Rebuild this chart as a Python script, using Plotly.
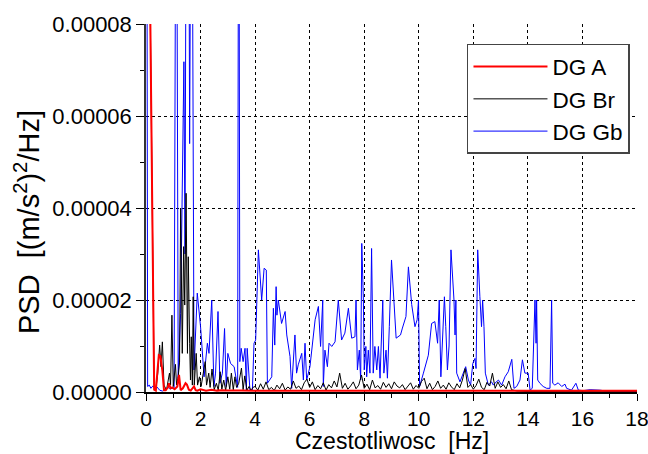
import plotly.graph_objects as go

UNIT = 1e-6  # values below are in units of 1e-6 (m/s^2)^2/Hz

# DG A (red)
a_f = [0.0, 0.16, 0.23, 0.3, 0.36, 0.42, 0.47, 0.53, 0.6, 0.66, 0.72, 0.8, 0.84, 0.9, 0.96,
       1.05, 1.15, 1.21, 1.27, 1.35, 1.45, 1.5, 1.57, 1.64, 1.7, 1.76, 1.82, 1.88, 2.0, 2.2,
       2.4, 2.6, 2.8, 3.0, 3.5, 4.0, 6.0, 8.0, 10.0, 12.0, 14.0, 16.0, 18.0]
a_v = [300, 80, 40, 0.5, 0.3, 5.0, 8.0, 7.8, 4.6, 0.4, 0.4, 1.0, 1.9, 0.8, 1.0,
       0.6, 1.2, 3.7, 0.4, 0.8, 1.9, 1.6, 0.5, 0.3, 0.8, 1.2, 0.4, 0.3, 0.6, 0.3,
       0.5, 0.3, 0.4, 0.3, 0.3, 0.25, 0.25, 0.25, 0.25, 0.25, 0.25, 0.25, 0.25]

# DG Br (black), low-frequency part
br_f_low = [0.0, 0.16, 0.23, 0.3, 0.36, 0.43, 0.5, 0.55, 0.6, 0.66, 0.75, 0.82, 0.86, 0.9, 0.95,
            1.0, 1.08, 1.12, 1.18, 1.23, 1.27, 1.33, 1.38, 1.42, 1.47, 1.52, 1.55, 1.6, 1.63, 1.66,
            1.7, 1.73, 1.77, 1.84, 1.89, 1.96, 2.02, 2.1, 2.17, 2.22, 2.3, 2.35, 2.42, 2.5, 2.58,
            2.65, 2.72, 2.78, 2.85, 2.92, 3.0, 3.07, 3.13, 3.2, 3.26, 3.32, 3.4, 3.5, 3.56, 3.62,
            3.7, 3.78, 3.85, 3.92]
br_v_low = [300, 80, 40, 1.0, 0.5, 4.0, 10.2, 5.5, 10.9, 1.5, 0.4, 2.5, 4.1, 1.5, 16.7,
            1.2, 6.0, 1.5, 3.3, 6.5, 40.0, 8.4, 31.6, 18.9, 43.2, 8.4, 29.4, 10.6, 2.6, 12.0,
            1.5, 20.7, 1.5, 8.4, 1.5, 3.3, 1.2, 4.1, 6.6, 1.5, 4.1, 1.0, 5.0, 0.5, 1.9,
            0.4, 4.4, 0.6, 2.6, 0.4, 3.3, 0.6, 4.1, 0.5, 3.3, 1.0, 1.9, 5.2, 0.5, 3.5,
            0.4, 1.2, 0.3, 1.0]
# DG Br (black), 4.0 .. 13.6 Hz every 0.1 Hz, then tail
br_f_high = [round(4.0 + 0.1 * i, 1) for i in range(97)] + [14.0, 15.0, 16.0, 17.0, 18.0]
br_v_high = [1.2, 0.4, 1.8, 0.6, 2.2, 0.5, 1.0, 0.3, 1.5, 0.7,
             1.9, 0.4, 1.1, 0.6, 2.4, 0.8, 1.3, 0.5, 2.0, 2.8,
             1.0, 2.2, 0.5, 1.4, 0.7, 2.0, 0.4, 1.6, 0.9, 2.4,
             1.1, 4.1, 0.8, 1.9, 0.6, 1.3, 2.2, 0.7, 1.5, 3.7,
             0.8, 1.7, 0.5, 2.6, 0.9, 1.4, 0.6, 2.1, 1.0, 1.8,
             0.7, 2.2, 1.3, 0.9, 1.6, 0.5, 1.2, 2.0, 0.6, 1.4,
             0.8, 2.3, 3.0, 0.7, 1.9, 0.5, 1.2, 2.4, 0.8, 1.5,
             0.6, 2.0, 1.1, 0.5, 1.8, 0.9, 2.6, 5.1, 1.0, 1.6,
             0.6, 1.4, 2.8, 1.0, 0.5, 2.1, 1.3, 4.1, 0.8, 2.2,
             1.0, 1.6, 0.7, 2.4, 0.5, 0.3, 0.2,
             0.1, 0.1, 0.1, 0.05, 0.05]

# DG Gb (blue)
gb_f = [0.0, 0.06, 0.12, 0.18, 0.25, 0.32, 0.4, 0.5, 0.6, 0.7, 0.8, 0.9, 1.03, 1.11, 1.18,
        1.27, 1.39, 1.43, 1.49, 1.55, 1.6, 1.67, 1.76, 1.88, 2.0, 2.13, 2.25, 2.31, 2.41, 2.49,
        2.55, 2.64, 2.71, 2.8, 2.88, 2.94, 3.0, 3.1, 3.23, 3.29, 3.36, 3.40, 3.44, 3.49, 3.56,
        3.63, 3.68, 3.71, 3.78, 3.81, 3.9, 3.96, 4.02, 4.12, 4.24, 4.33, 4.41, 4.45, 4.61, 4.67,
        4.72, 4.77, 4.8, 4.85, 4.97, 5.10, 5.16, 5.28, 5.34, 5.46, 5.52, 5.58, 5.71, 5.77, 5.83,
        5.89, 6.01, 6.07, 6.2, 6.32, 6.4, 6.48, 6.5, 6.56, 6.65, 6.71, 6.81, 6.93, 7.05, 7.17,
        7.29, 7.42, 7.54, 7.66, 7.70, 7.75, 7.82, 7.87, 7.91, 7.97, 8.0, 8.06, 8.09, 8.15, 8.21,
        8.27, 8.33, 8.39, 8.46, 8.52, 8.58, 8.68, 8.72, 8.8, 8.85, 8.92, 9.0, 9.17, 9.33, 9.4,
        9.53, 9.62, 9.74, 9.86, 9.94, 9.99, 10.03, 10.17, 10.35, 10.47, 10.59, 10.69, 10.75, 10.81, 10.88,
        10.94, 10.99, 11.05, 11.11, 11.18, 11.24, 11.29, 11.33, 11.36, 11.39, 11.51, 11.63, 11.72, 11.82, 11.9,
        11.98, 12.06, 12.1, 12.16, 12.24, 12.3, 12.34, 12.39, 12.44, 12.55, 12.67, 12.73, 12.79, 12.92, 13.04,
        13.16, 13.28, 13.41, 13.49, 13.59, 13.71, 13.8, 13.89, 14.01, 14.08, 14.16, 14.26, 14.3, 14.32, 14.36,
        14.44, 14.56, 14.69, 14.81, 14.87, 14.91, 14.99, 15.11, 15.24, 15.36, 15.42, 15.6, 15.76, 15.85, 16.03,
        16.28, 16.64, 16.89, 18.0]
gb_v = [250, 1.2, 1.5, 0.8, 1.3, 0.9, 1.1, 0.4, 0.2, 0.5, 1.0, 0.7, 0.9, 150, 3.0,
        17.1, 71.8, 30.0, 150, 150, 54.0, 150, 4.8, 21.5, 14.2, 3.3, 10.6, 8.4, 20.0, 1.2,
        4.1, 17.5, 1.9, 4.1, 13.8, 1.2, 8.4, 6.2, 5.5, 3.3, 1.0, 150, 6.6, 9.5, 6.6,
        9.5, 0.4, 9.5, 1.9, 0.4, 0.4, 10.6, 11.3, 30.9, 20.0, 26.9, 26.5, 1.9, 3.3, 18.2,
        10.2, 22.9, 16.7, 20.0, 14.9, 17.5, 12.4, 7.7, 0.8, 12.4, 4.1, 5.9, 8.4, 2.6, 10.6,
        2.6, 5.5, 9.1, 15.7, 18.6, 9.9, 20.0, 1.2, 9.1, 5.5, 10.6, 9.9, 10.9, 20.0, 11.3,
        12.8, 18.2, 11.7, 12.0, 20.0, 4.8, 9.1, 2.6, 32.3, 20.0, 4.8, 9.9, 3.3, 9.1, 4.1,
        31.2, 4.1, 9.9, 4.8, 9.9, 3.0, 20.0, 4.1, 9.1, 3.0, 14.2, 28.7, 11.7, 12.4, 13.9,
        16.4, 27.2, 19.0, 14.2, 15.7, 20.0, 1.2, 4.1, 8.0, 14.9, 15.3, 10.6, 20.0, 3.3, 12.0,
        20.7, 14.2, 4.8, 10.0, 30.9, 25.0, 20.0, 12.4, 20.0, 4.1, 2.2, 4.1, 5.5, 2.6, 1.5,
        6.2, 7.3, 5.1, 30.9, 20.7, 14.2, 20.0, 14.2, 4.1, 1.5, 2.2, 1.5, 1.9, 2.6, 1.5,
        3.3, 4.4, 7.1, 0.8, 1.2, 2.6, 7.0, 4.1, 4.1, 0.4, 0.8, 20.0, 10.6, 20.0, 2.6,
        1.9, 1.2, 0.8, 0.8, 20.0, 1.9, 1.5, 2.0, 1.2, 1.7, 0.8, 0.4, 1.9, 0.4, 0.3,
        0.5, 0.4, 0.2, 0.1]

x_ticks = [0, 2, 4, 6, 8, 10, 12, 14, 16, 18]
y_ticks = [0.0, 0.00002, 0.00004, 0.00006, 0.00008]
x_title = "Czestotliwosc  [Hz]"
y_title = "PSD  [(m/s<sup>2</sup>)<sup>2</sup>/Hz]"

FONT = "Liberation Sans, Arial, sans-serif"

br_f = br_f_low + br_f_high
br_v = br_v_low + br_v_high

fig = go.Figure()
fig.add_trace(go.Scatter(x=gb_f, y=[v * UNIT for v in gb_v], mode="lines", name="DG Gb",
                         line=dict(color="#0000ff", width=1)))
fig.add_trace(go.Scatter(x=br_f, y=[v * UNIT for v in br_v], mode="lines", name="DG Br",
                         line=dict(color="#000000", width=1)))
fig.add_trace(go.Scatter(x=a_f, y=[v * UNIT for v in a_v], mode="lines", name="DG A",
                         line=dict(color="#ff0000", width=2)))

fig.update_layout(
    width=648, height=454,
    margin=dict(l=146, r=11, t=24, b=62),
    paper_bgcolor="white", plot_bgcolor="white",
    font=dict(family=FONT, size=21, color="black"),
    showlegend=True,
    legend=dict(
        traceorder="reversed",
        x=0.9857, y=0.9457, xanchor="right", yanchor="top",
        bgcolor="white", bordercolor="#444444", borderwidth=1.5,
        font=dict(family=FONT, size=22.5, color="black"),
        itemwidth=74, tracegroupgap=0,
    ),
    annotations=[
        dict(text=x_title, xref="paper", yref="paper", x=0.5, y=(392 - 441) / 368,
             xanchor="center", yanchor="middle", showarrow=False,
             font=dict(family=FONT, size=23, color="black")),
        dict(text=y_title, xref="paper", yref="paper", x=(27 - 146) / 491, y=(392 - 222) / 368,
             xanchor="center", yanchor="middle", showarrow=False, textangle=-90,
             font=dict(family=FONT, size=29, color="black")),
    ],
)
fig.update_xaxes(
    range=[0, 18], tickvals=x_ticks, ticktext=[str(t) for t in x_ticks],
    showline=True, linecolor="black", linewidth=1.5,
    ticks="outside", ticklen=7, tickwidth=1, tickcolor="black",
    minor=dict(ticks="outside", ticklen=4, dtick=1, tickcolor="black", showgrid=False),
    showgrid=True, gridcolor="black", griddash="dot", gridwidth=1,
    zeroline=False, automargin=False, layer="below traces",
    tickfont=dict(family=FONT, size=21), ticklabeloverflow="allow",
)
fig.update_yaxes(
    range=[0, 0.00008], tickvals=y_ticks, ticktext=["%.5f" % t for t in y_ticks],
    showline=True, linecolor="#333333", linewidth=1.5,
    ticks="outside", ticklen=8, tickwidth=1, tickcolor="black",
    minor=dict(ticks="outside", ticklen=4, dtick=0.00001, tickcolor="black", showgrid=False),
    showgrid=True, gridcolor="black", griddash="dot", gridwidth=1,
    zeroline=False, automargin=False, layer="below traces",
    tickfont=dict(family=FONT, size=22),
)

fig.write_html("out.html", config={"displayModeBar": False},
               post_script="document.body.style.margin='0px';")
